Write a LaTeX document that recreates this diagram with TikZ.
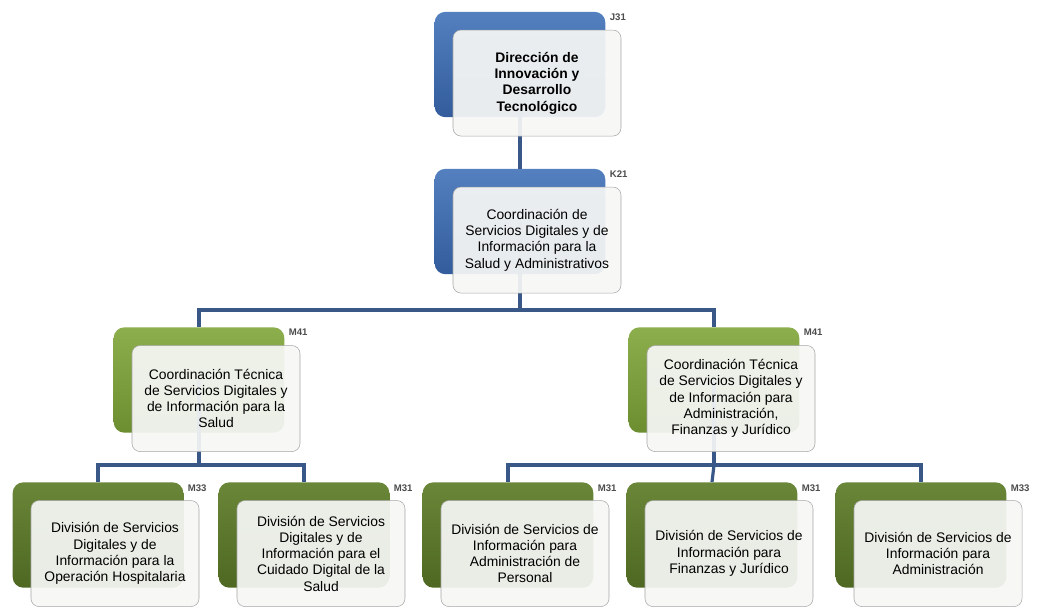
\documentclass[tikz,border=0pt]{standalone}
\usepackage{fontspec}
\setmainfont{Liberation Sans}
\usepackage{tikz}
\usetikzlibrary{positioning}
\definecolor{orgblue}{RGB}{50,92,156}
\definecolor{orgbluetop}{RGB}{84,128,192}
\definecolor{litegreen}{RGB}{108,142,48}
\definecolor{litegreentop}{RGB}{140,174,76}
\definecolor{darkgreen}{RGB}{78,104,34}
\definecolor{darkgreentop}{RGB}{106,134,56}
\definecolor{linkblue}{RGB}{58,88,135}
\definecolor{frontfill}{RGB}{246,247,245}
\tikzstyle{backbox}=[rectangle,rounded corners=8pt,minimum width=128pt,minimum height=79pt,inner sep=0pt]
\tikzstyle{bluebox}=[backbox,top color=orgbluetop,bottom color=orgblue]
\tikzstyle{litebox}=[backbox,top color=litegreentop,bottom color=litegreen]
\tikzstyle{darkbox}=[backbox,top color=darkgreentop,bottom color=darkgreen]
\tikzstyle{frontbox}=[rectangle,rounded corners=6pt,draw=black!35,fill=frontfill,fill opacity=0.93,text opacity=1,
                  minimum width=126pt,minimum height=79.5pt,align=center,inner sep=2pt,
                  font=\fontsize{10.4}{12.2}\selectfont,xshift=12.75pt,yshift=-13.9pt]
\tikzstyle{code}=[font=\bfseries\fontsize{7.2}{8}\selectfont,text=black!70,anchor=north west,inner sep=0pt,xshift=3pt,yshift=-1.5pt]
\tikzstyle{link}=[line width=2.4pt,draw=linkblue]

\begin{document}
\begin{tikzpicture}[x=0.75pt,y=-0.75pt]
      \useasboundingbox (0,0) rectangle (1041,608);
      % back boxes
      \node[bluebox] (j31b) at (520,64.5) {};
      \node[bluebox] (k21b) at (520,221.5) {};
      \node[litebox] (m41ab) at (199,380) {};
      \node[litebox] (m41bb) at (714,380) {};
      \node[darkbox] (m33ab) at (98,535) {};
      \node[darkbox] (m31ab) at (304,535) {};
      \node[darkbox] (m31bb) at (508,535) {};
      \node[darkbox] (m31cb) at (712,535) {};
      \node[darkbox] (m33bb) at (921,535) {};

      \coordinate (bus1) at (0,310);
      \coordinate (bus2) at (0,465);

      % connectors
      \draw[link] (j31b.center)--(k21b.north);
      \draw[link] (k21b.center)--(k21b.center |- bus1)-|(m41ab.north);
      \draw[link] (k21b.center |- bus1)-|(m41bb.north);
      \draw[link] (m41ab.center)--(m41ab.center |- bus2)-|(m33ab.north);
      \draw[link] (m41ab.center |- bus2)-|(m31ab.north);
      \draw[link] (m41bb.center)--(m41bb.center |- bus2)-|(m31bb.north);
      \draw[link] (m41bb.center |- bus2)-|(m33bb.north);
      \draw[link] (m41bb.center |- bus2)--(m31cb.north);

      % front boxes
      \node[frontbox,font=\bfseries\fontsize{10.4}{12.2}\selectfont] (j31) at (j31b) {Dirección de\\Innovación y\\Desarrollo\\Tecnológico};
      \node[frontbox] (k21) at (k21b) {Coordinación de\\Servicios Digitales y de\\Información para la\\Salud y Administrativos};
      \node[frontbox] (m41a) at (m41ab) {Coordinación Técnica\\de Servicios Digitales y\\de Información para la\\Salud};
      \node[frontbox] (m41b) at (m41bb) {Coordinación Técnica\\de Servicios Digitales y\\de Información para\\Administración,\\Finanzas y Jurídico};
      \node[frontbox] (m33a) at (m33ab) {División de Servicios\\Digitales y de\\Información para la\\Operación Hospitalaria};
      \node[frontbox] (m31a) at (m31ab) {División de Servicios\\Digitales y de\\Información para el\\Cuidado Digital de la\\Salud};
      \node[frontbox] (m31b) at (m31bb) {División de Servicios de\\Información para\\Administración de\\Personal};
      \node[frontbox] (m31c) at (m31cb) {División de Servicios de\\Información para\\Finanzas y Jurídico};
      \node[frontbox] (m33b) at (m33bb) {División de Servicios de\\Información para\\Administración};

      % level codes
      \node[code] (j31code) at (j31b.north east) {J31};
      \node[code] (k21code) at (k21b.north east) {K21};
      \node[code] (m41acode) at (m41ab.north east) {M41};
      \node[code] (m41bcode) at (m41bb.north east) {M41};
      \node[code] (m33acode) at (m33ab.north east) {M33};
      \node[code] (m31acode) at (m31ab.north east) {M31};
      \node[code] (m31bcode) at (m31bb.north east) {M31};
      \node[code] (m31ccode) at (m31cb.north east) {M31};
      \node[code] (m33bcode) at (m33bb.north east) {M33};
    \end{tikzpicture}
\end{document}
